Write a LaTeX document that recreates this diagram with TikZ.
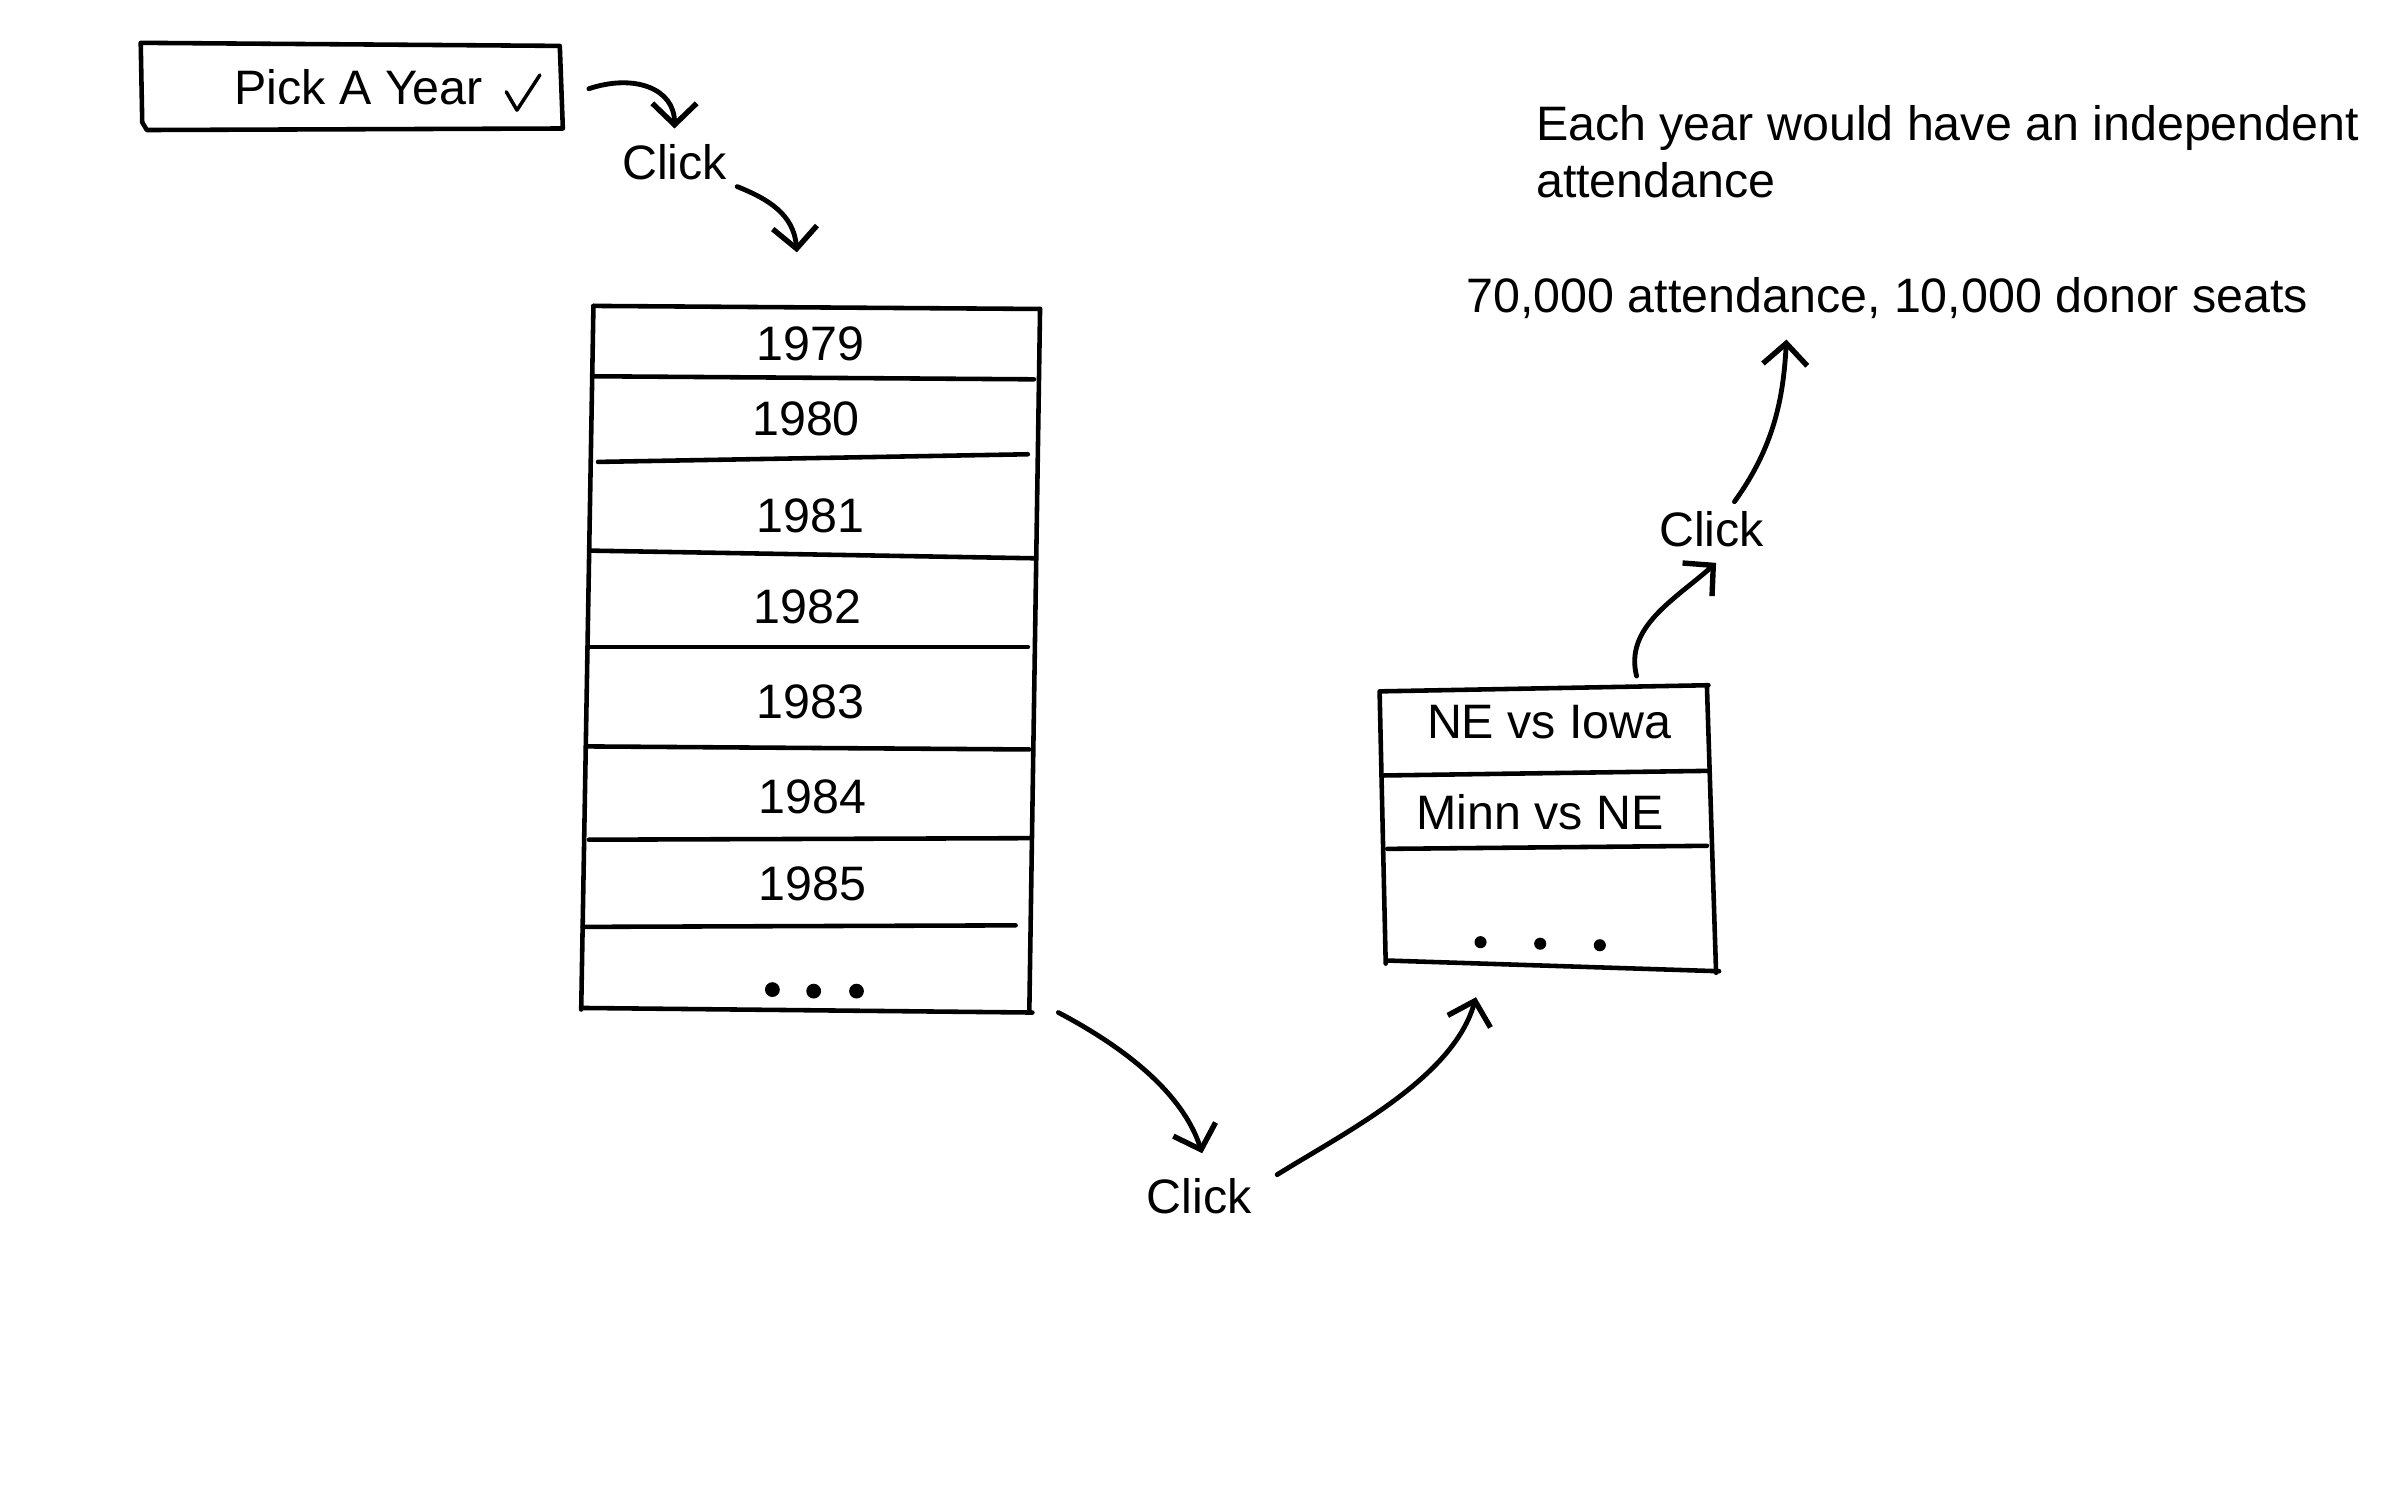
\documentclass[tikz,border=0pt]{standalone}
\usepackage{fontspec}
\setmainfont{Liberation Sans}
\usetikzlibrary{arrows.meta}
\tikzset{
  ink/.style={line width=1.7pt, line cap=round, line join=round},
  conn/.style={line width=1.8pt, line cap=round, line join=round, -{Straight Barb[length=2.8mm,width=5.8mm,line width=2pt]}},
  lbl/.style={inner sep=0pt, font=\fontsize{18}{22}\selectfont},
  dotm/.style={fill=black, circle, inner sep=0pt, minimum size=5.5pt}
}
\begin{document}
\begin{tikzpicture}[x=0.02cm,y=-0.02cm]
\useasboundingbox (0,0) rectangle (1560,975);

% Pick A Year box
\draw[ink] (92,28) -- (366,30) -- (368,84) -- (96,85) -- (93,80) -- cycle;
\node[lbl, anchor=base west] (pick) at (153,68) {Pick A Year};
\draw[line width=1.3pt, line cap=round, line join=round] (331,60) -- (338,72) -- (353,49);

% Click labels
\node[lbl] (click1) at (441,106) {Click};
\node[lbl] (click2) at (784,782) {Click};
\node[lbl] (click3) at (1119,346) {Click};

% Year list
\draw[ink] (388,200) -- (680,202);
\draw[ink] (388,200) -- (380,660);
\draw[ink] (680,202) -- (673,660);
\draw[ink] (380,659) -- (675,662);
\draw[ink] (388,246) -- (676,248);
\draw[ink] (391,302) -- (672,297);
\draw[ink] (386,360) -- (676,365);
\draw[ink] (385,423) -- (672,423);
\draw[ink] (383,488) -- (673,490);
\draw[ink] (385,549) -- (673,548);
\draw[ink] (381,606) -- (664,605);
\node[lbl] (y1979) at (530,225) {1979};
\node[lbl] (y1980) at (527,274) {1980};
\node[lbl] (y1981) at (530,337) {1981};
\node[lbl] (y1982) at (528,397) {1982};
\node[lbl] (y1983) at (530,459) {1983};
\node[lbl] (y1984) at (531,521) {1984};
\node[lbl] (y1985) at (531,578) {1985};
\node[dotm] (yd1) at (505,647) {};
\node[dotm] (yd2) at (532,648) {};
\node[dotm] (yd3) at (560,648) {};

% Game list
\draw[ink] (903,452) -- (1117,448);
\draw[ink] (902,452) -- (906,630);
\draw[ink] (1116,448) -- (1122,636);
\draw[ink] (907,628) -- (1124,635);
\draw[ink] (905,507) -- (1116,504);
\draw[ink] (907,555) -- (1116,553);
\node[lbl] (g1) at (1013,472) {NE vs Iowa};
\node[lbl] (g2) at (1007,531) {Minn vs NE};
\node[dotm, minimum size=4.5pt] (gd1) at (968,616) {};
\node[dotm, minimum size=4.5pt] (gd2) at (1007,617) {};
\node[dotm, minimum size=4.5pt] (gd3) at (1046,618) {};

% Texts
\node[lbl, anchor=base west] (info1) at (1004,92) {Each year would have an independent};
\node[lbl, anchor=base west] (info2) at (1004,129) {attendance};
\node[lbl] (att) at (1234,195) {70,000 attendance, 10,000 donor seats};

% Connector endpoints
\coordinate (a1s) at (385,58);   \coordinate (a1e) at (441,84);
\coordinate (a2s) at (482,122);  \coordinate (a2e) at (521,165);
\coordinate (a3s) at (692,662);  \coordinate (a3e) at (786,754);
\coordinate (a4s) at (835,768);  \coordinate (a4e) at (965,652);
\coordinate (a5s) at (1070,442); \coordinate (a5e) at (1122,368);
\coordinate (a6s) at (1134,328); \coordinate (a6e) at (1168,222);

\draw[conn] (a1s) .. controls (415,48) and (441,58) .. (a1e);
\draw[conn] (a2s) .. controls (502,130) and (519,140) .. (a2e);
\draw[conn] (a3s) .. controls (745,690) and (775,720) .. (a3e);
\draw[conn] (a4s) .. controls (880,740) and (950,705) .. (a4e);
\draw[conn] (a5s) .. controls (1062,410) and (1095,392) .. (a5e);
\draw[conn] (a6s) .. controls (1160,292) and (1166,260) .. (a6e);
\end{tikzpicture}
\end{document}
